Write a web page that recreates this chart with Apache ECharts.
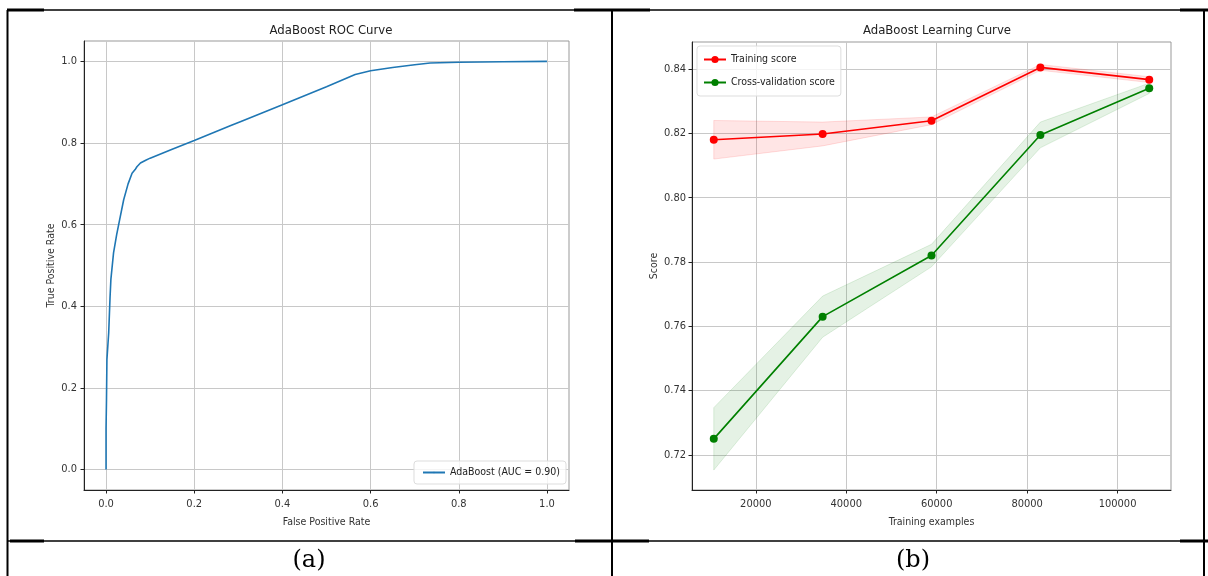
<!DOCTYPE html>
<html>
<head>
<meta charset="utf-8">
<script src="https://cdn.jsdelivr.net/npm/echarts@6/dist/echarts.min.js"></script>
<style>
  html, body { margin: 0; padding: 0; background: #fff; }
  #chart { width: 1208px; height: 576px; }
</style>
</head>
<body>
<div id="chart"></div>
<script>
// ROC curve
var rocFpr = [0, 0, 0.001, 0.002, 0.006, 0.009, 0.011, 0.017, 0.024, 0.031, 0.040, 0.050, 0.059, 0.066, 0.070, 0.078, 0.090, 0.100, 0.150, 0.200, 0.283, 0.306, 0.400, 0.500, 0.565, 0.600, 0.650, 0.700, 0.735, 0.800, 0.900, 1.000];
var rocTpr = [0, 0.10, 0.17, 0.27, 0.335, 0.42, 0.466, 0.531, 0.575, 0.613, 0.661, 0.700, 0.726, 0.735, 0.742, 0.751, 0.758, 0.763, 0.785, 0.806, 0.843, 0.853, 0.894, 0.938, 0.968, 0.977, 0.985, 0.992, 0.996, 0.998, 0.999, 1.000];
var rocTicks = [0, 0.2, 0.4, 0.6, 0.8, 1.0];

// learning curve
var trainSizes = [10700, 34775, 58850, 82925, 107000];
var trainMean = [0.8180, 0.8198, 0.8239, 0.8405, 0.8367];
var trainStd = [0.0060, 0.0037, 0.0012, 0.0009, 0.0009];
var cvMean = [0.7250, 0.7630, 0.7820, 0.8195, 0.8340];
var cvStd = [0.0097, 0.0064, 0.0035, 0.0040, 0.0016];
var lcXTicks = [20000, 40000, 60000, 80000, 100000];
var lcYTicks = [0.72, 0.74, 0.76, 0.78, 0.80, 0.82, 0.84];

var chart = echarts.init(document.getElementById('chart'));

var font = '"DejaVu Sans Condensed", "Liberation Sans Narrow", "DejaVu Sans", sans-serif';

function pairs(xs, ys) {
  var out = [];
  for (var i = 0; i < xs.length; i++) out.push([xs[i], ys[i]]);
  return out;
}

// band between mean-std and mean+std, drawn with the axis scales
function bandSeries(mean, std, fill, edge) {
  return {
    type: 'custom',
    xAxisIndex: 1,
    yAxisIndex: 1,
    silent: true,
    clip: true,
    z: 1,
    data: [[trainSizes[0], mean[0]]],
    renderItem: function (params, api) {
      var pts = [];
      for (var i = 0; i < trainSizes.length; i++) {
        pts.push(api.coord([trainSizes[i], mean[i] + std[i]]));
      }
      for (var j = trainSizes.length - 1; j >= 0; j--) {
        pts.push(api.coord([trainSizes[j], mean[j] - std[j]]));
      }
      return {
        type: 'polygon',
        shape: { points: pts },
        style: { fill: fill, stroke: edge, lineWidth: 1 }
      };
    }
  };
}

var gridLine = { show: true, lineStyle: { color: '#c8c8c8', width: 1 } };

function valueAxis(gridIndex, min, max, ticks, decimals, name, nameGap, labelMargin) {
  return {
    type: 'value',
    gridIndex: gridIndex,
    min: min,
    max: max,
    name: name,
    nameLocation: 'middle',
    nameGap: nameGap,
    nameTextStyle: { fontSize: 10.5, color: '#333', fontFamily: font },
    axisLine: { show: true, onZero: false, lineStyle: { color: '#222', width: 1 } },
    axisTick: { show: true, length: 3.5, customValues: ticks, lineStyle: { color: '#222' } },
    axisLabel: {
      customValues: ticks,
      margin: labelMargin,
      fontSize: 11, color: '#333', fontFamily: font,
      formatter: function (v) { return decimals >= 0 ? v.toFixed(decimals) : String(v); }
    },
    splitLine: gridLine
  };
}

var option = {
  backgroundColor: '#fff',
  animation: false,
  title: [
    {
      text: 'AdaBoost ROC Curve',
      left: 326, top: 19, textAlign: 'center',
      textStyle: { fontSize: 13, fontWeight: 'normal', color: '#222', fontFamily: font }
    },
    {
      text: 'AdaBoost Learning Curve',
      left: 932, top: 19, textAlign: 'center',
      textStyle: { fontSize: 13, fontWeight: 'normal', color: '#222', fontFamily: font }
    }
  ],
  grid: [
    { left: 84, top: 41, width: 485, height: 449, show: true, borderColor: '#999', borderWidth: 1 },
    { left: 692, top: 42, width: 479, height: 448, show: true, borderColor: '#999', borderWidth: 1 }
  ],
  legend: [
    {
      data: ['AdaBoost (AUC = 0.90)'],
      right: 642, bottom: 92,
      orient: 'vertical',
      itemWidth: 22, itemHeight: 2, itemGap: 4,
      padding: [6, 6, 6, 8],
      borderColor: '#ddd', borderWidth: 1, borderRadius: 3,
      backgroundColor: 'rgba(255,255,255,0.8)',
      textStyle: { fontSize: 10.5, color: '#222', fontFamily: font }
    },
    {
      data: ['Training score', 'Cross-validation score'],
      left: 697, top: 46,
      orient: 'vertical',
      itemWidth: 22, itemHeight: 9, itemGap: 12,
      padding: [8, 6, 8, 6],
      borderColor: '#ddd', borderWidth: 1, borderRadius: 3,
      backgroundColor: 'rgba(255,255,255,0.8)',
      textStyle: { fontSize: 10.5, color: '#222', fontFamily: font }
    }
  ],
  xAxis: [
    valueAxis(0, -0.05, 1.05, rocTicks, 1, 'False Positive Rate', 27, 9),
    valueAxis(1, 5885, 111815, lcXTicks, -1, 'Training examples', 27, 9)
  ],
  yAxis: [
    valueAxis(0, -0.05, 1.05, rocTicks, 1, 'True Positive Rate', 27, 7),
    valueAxis(1, 0.7091, 0.8484, lcYTicks, 2, 'Score', 31, 6)
  ],
  graphic: [
    // table borders
    { type: 'line', shape: { x1: 7, y1: 10, x2: 1204, y2: 10 }, style: { stroke: '#000', lineWidth: 1.5 } },
    { type: 'line', shape: { x1: 7, y1: 10, x2: 44, y2: 10 }, style: { stroke: '#000', lineWidth: 3 } },
    { type: 'line', shape: { x1: 574, y1: 10, x2: 650, y2: 10 }, style: { stroke: '#000', lineWidth: 3 } },
    { type: 'line', shape: { x1: 1180, y1: 10, x2: 1208, y2: 10 }, style: { stroke: '#000', lineWidth: 3 } },
    { type: 'line', shape: { x1: 7.5, y1: 10, x2: 7.5, y2: 576 }, style: { stroke: '#000', lineWidth: 2 } },
    { type: 'line', shape: { x1: 612, y1: 10, x2: 612, y2: 576 }, style: { stroke: '#000', lineWidth: 2 } },
    { type: 'line', shape: { x1: 1204, y1: 10, x2: 1204, y2: 576 }, style: { stroke: '#000', lineWidth: 2 } },
    { type: 'line', shape: { x1: 7, y1: 541, x2: 1204, y2: 541 }, style: { stroke: '#000', lineWidth: 1.5 } },
    { type: 'line', shape: { x1: 10, y1: 541, x2: 44, y2: 541 }, style: { stroke: '#000', lineWidth: 3 } },
    { type: 'line', shape: { x1: 575, y1: 541, x2: 649, y2: 541 }, style: { stroke: '#000', lineWidth: 3 } },
    { type: 'line', shape: { x1: 1180, y1: 541, x2: 1208, y2: 541 }, style: { stroke: '#000', lineWidth: 3 } },
    // captions
    {
      type: 'text', x: 309, y: 561,
      style: { text: '(a)', fontSize: 24, fontFamily: '"DejaVu Serif", "Liberation Serif", serif', fill: '#000', align: 'center', verticalAlign: 'middle' }
    },
    {
      type: 'text', x: 913, y: 561,
      style: { text: '(b)', fontSize: 24, fontFamily: '"DejaVu Serif", "Liberation Serif", serif', fill: '#000', align: 'center', verticalAlign: 'middle' }
    }
  ],
  series: [
    {
      name: 'AdaBoost (AUC = 0.90)',
      type: 'line',
      xAxisIndex: 0, yAxisIndex: 0,
      data: pairs(rocFpr, rocTpr),
      showSymbol: false,
      symbol: 'none',
      itemStyle: { color: '#1f77b4' },
      lineStyle: { color: '#1f77b4', width: 1.6 },
      z: 3
    },
    bandSeries(trainMean, trainStd, 'rgba(255,0,0,0.1)', 'rgba(255,0,0,0.12)'),
    bandSeries(cvMean, cvStd, 'rgba(0,128,0,0.1)', 'rgba(0,128,0,0.12)'),
    {
      name: 'Training score',
      type: 'line',
      xAxisIndex: 1, yAxisIndex: 1,
      data: pairs(trainSizes, trainMean),
      symbol: 'circle', symbolSize: 8,
      itemStyle: { color: '#ff0000' },
      lineStyle: { color: '#ff0000', width: 1.6 },
      z: 3
    },
    {
      name: 'Cross-validation score',
      type: 'line',
      xAxisIndex: 1, yAxisIndex: 1,
      data: pairs(trainSizes, cvMean),
      symbol: 'circle', symbolSize: 8,
      itemStyle: { color: '#008000' },
      lineStyle: { color: '#008000', width: 1.6 },
      z: 3
    }
  ]
};

chart.setOption(option);
</script>
</body>
</html>
